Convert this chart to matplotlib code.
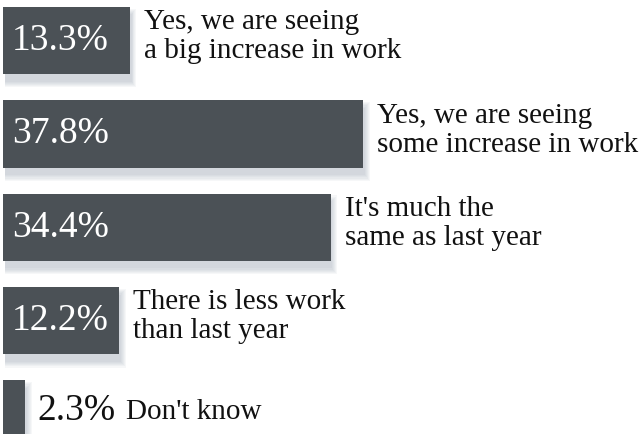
import matplotlib.pyplot as plt

# survey answers, top to bottom
answers = [
    "Yes, we are seeing\na big increase in work",
    "Yes, we are seeing\nsome increase in work",
    "It's much the\nsame as last year",
    "There is less work\nthan last year",
    "Don't know",
]
shares = [13.3, 37.8, 34.4, 12.2, 2.3]
pct_labels = ["13.3%", "37.8%", "34.4%", "12.2%", "2.3%"]

bar_color = "#4b5156"
font = ["Liberation Serif", "DejaVu Serif"]

fig = plt.figure(figsize=(6.42, 4.34), dpi=100)
ax = fig.add_axes([0, 0, 1, 1])
ax.set_xlim(-0.315, 67.1)
ax.set_ylim(4.213, -0.434)
ax.axis("off")

ypos = list(range(len(shares)))

# soft drop shadow under each bar
for k in range(6):
    ax.barh([y + 0.08 for y in ypos], [s + 0.1 * k for s in shares],
            height=0.72 + 0.025 * k, left=0.2,
            color="#8a96a6", alpha=0.07, linewidth=0, zorder=1)

ax.barh(ypos, shares, height=0.72, color=bar_color, linewidth=0, zorder=2)

for y, s, p, a in zip(ypos, shares, pct_labels, answers):
    if s > 5:
        ax.text(0.95, y, p, color="white", fontsize=27, family=font,
                ha="left", va="center", zorder=3)
        ax.text(s + 1.5, y - 0.04, a, color="#111111", fontsize=21, family=font,
                ha="left", va="center", linespacing=1.15, zorder=3)
    else:
        ax.text(s + 1.35, y - 0.04, p, color="#111111", fontsize=27, family=font,
                ha="left", va="center", zorder=3)
        ax.text(s + 10.6, y - 0.02, a, color="#111111", fontsize=21, family=font,
                ha="left", va="center", zorder=3)

fig.savefig("out.png", dpi=100)
